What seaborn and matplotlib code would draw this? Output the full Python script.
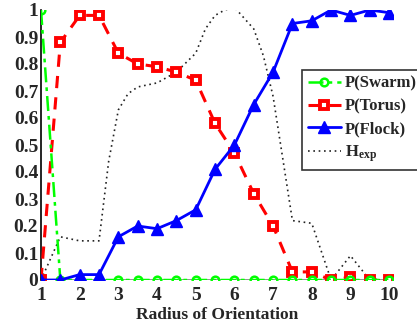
import numpy as np
import pandas as pd
import matplotlib
matplotlib.use("Agg")
import matplotlib.pyplot as plt
import seaborn as sns

radius = [1, 1.5, 2, 2.5, 3, 3.5, 4, 4.5, 5, 5.5, 6, 6.5, 7, 7.5, 8, 8.5, 9, 9.5, 10]
p_swarm = [1.0, 0, 0, 0, 0, 0, 0, 0, 0, 0, 0, 0, 0, 0, 0, 0, 0, 0, 0]
p_torus = [0.0, 0.88, 0.98, 0.98, 0.84, 0.80, 0.79, 0.77, 0.74, 0.58, 0.47, 0.32, 0.20,
           0.03, 0.03, 0.0, 0.01, 0.0, 0.0]
p_flock = [0.0, 0.0, 0.02, 0.02, 0.16, 0.20, 0.19, 0.22, 0.26, 0.41, 0.50, 0.65, 0.77,
           0.95, 0.96, 1.0, 0.98, 1.0, 0.99]
h_radius = [1, 1.5, 2, 2.5, 2.75, 3, 3.25, 3.5, 4, 4.5, 5, 5.25, 5.5, 5.75, 6, 6.5,
            6.75, 7, 7.25, 7.5, 8, 8.5, 9, 9.5, 10]
h_exp = [0.0, 0.16, 0.145, 0.145, 0.44, 0.63, 0.69, 0.715, 0.73, 0.77, 0.84, 0.93,
         0.98, 1.0, 1.01, 0.93, 0.83, 0.68, 0.45, 0.22, 0.21, 0.0, 0.09, 0.0, 0.0]
xticks = [1, 2, 3, 4, 5, 6, 7, 8, 9, 10]
yticks = [0, 0.1, 0.2, 0.3, 0.4, 0.5, 0.6, 0.7, 0.8, 0.9, 1]
ytick_labels = ["0", "0.1", "0.2", "0.3", "0.4", "0.5", "0.6", "0.7", "0.8", "0.9", "1"]

sns.set_style("white")
plt.rcParams['font.family'] = ['Liberation Serif', 'DejaVu Serif']
plt.rcParams['font.weight'] = 'bold'
plt.rcParams['mathtext.fontset'] = 'custom'
plt.rcParams['mathtext.bf'] = 'Liberation Serif:bold'
plt.rcParams['mathtext.rm'] = 'Liberation Serif'

fig = plt.figure(figsize=(4.17, 3.25), dpi=100)
ax = fig.add_axes([41/417, 1-280/325, 352/417, 270/325])

df = pd.DataFrame({"r": radius, "swarm": p_swarm, "torus": p_torus, "flock": p_flock})
dh = pd.DataFrame({"r": h_radius, "h": h_exp})

ax.axhline(0, color='#808080', lw=1.2, zorder=0)

sns.lineplot(data=df, x="r", y="swarm", ax=ax, color='#00ff00', lw=1.8,
             linestyle=(0, (6, 2, 1.5, 2)), marker='o', markersize=5.5,
             markerfacecolor='none', markeredgecolor='#00ff00', markeredgewidth=1.8,
             label='P(Swarm)', zorder=4)
sns.lineplot(data=df, x="r", y="torus", ax=ax, color='#ff0000', lw=2.2,
             linestyle=(0, (4, 3)), marker='s', markersize=5.5,
             markerfacecolor='white', markeredgecolor='#ff0000', markeredgewidth=2.8,
             label='P(Torus)', zorder=3)
sns.lineplot(data=df, x="r", y="flock", ax=ax, color='#0000ff', lw=2.0,
             linestyle='-', marker='^', markersize=8,
             markerfacecolor='#0000ff', markeredgecolor='#0000ff', markeredgewidth=1,
             label='P(Flock)', zorder=5)
sns.lineplot(data=dh, x="r", y="h", ax=ax, color='#222222', lw=1.2,
             linestyle=(0, (1, 2.2)), label=r'$\mathbf{H_{exp}}$', zorder=2)

ax.set_xlim(1, 10.1)
ax.set_ylim(0, 1)
ax.set_xticks(xticks)
ax.set_xticklabels([str(t) for t in xticks])
ax.set_yticks(yticks)
ax.set_yticklabels(ytick_labels)
ax.tick_params(axis='y', length=0, labelsize=14, pad=2)
ax.tick_params(axis='x', length=0, labelsize=14, pad=5)
for lab in ax.get_xticklabels() + ax.get_yticklabels():
    lab.set_fontweight('bold')
ax.set_xlabel("Radius of Orientation", fontsize=12.5, fontweight='bold', labelpad=2)
ax.set_ylabel("")

for s in ['top', 'right', 'bottom']:
    ax.spines[s].set_visible(False)
ax.spines['left'].set_color('black')
ax.spines['left'].set_linewidth(1.2)

leg = ax.legend(loc='upper left', bbox_to_anchor=(0.741, 0.778), frameon=True,
                fancybox=False, edgecolor='black', prop={'size': 12, 'weight': 'bold'},
                handlelength=2.0, borderpad=0.35, labelspacing=0.4, handletextpad=0.25,
                borderaxespad=0)
leg.get_frame().set_linewidth(1.2)

fig.savefig("out.png", dpi=100)
